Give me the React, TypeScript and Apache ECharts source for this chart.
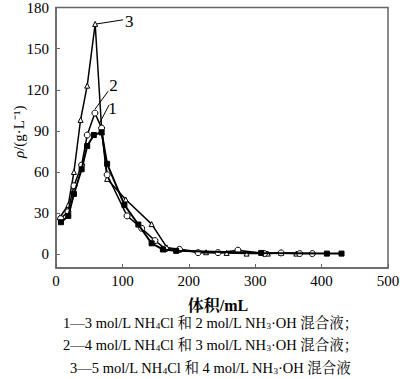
import React, { useEffect, useRef } from "react";
import * as echarts from "echarts";

const s1X = [7.5, 18.5, 27, 38.6, 47, 57, 68.7, 77, 103, 124, 144, 161, 181, 309, 408, 430];
const s1Y = [23.4, 28, 44, 62, 79, 87, 89, 66, 36, 21.7, 8, 3.5, 2.5, 1, 0.5, 0.5];

const s2X = [7, 18, 27, 38.6, 47, 58.6, 68.7, 77, 107, 129, 149, 165, 186, 214, 244, 274, 314, 339, 367, 386];
const s2Y = [26, 31, 50, 65, 87, 103, 92, 58, 28, 19, 10, 4, 3.6, 1.2, 1.2, 3, 0.5, 1, 0.5, 0.5];

const s3X = [6, 18.5, 27, 37, 47, 59, 69, 77, 105, 144, 167, 186, 226, 257, 287, 319, 339, 362];
const s3Y = [27, 36, 60, 98, 123, 168, 89, 55, 40, 22, 5, 3.5, 1.5, 1, 0.5, 0.5, 1, 0.5];

const xTicks = [0, 100, 200, 300, 400, 500];
const yTicks = [0, 30, 60, 90, 120, 150, 180];

const label1Line = [[66, 96], [80, 109]];
const label2Line = [[59, 106], [78.6, 119]];
const label3Line = [[61, 168], [101, 171]];
const label1Pos = [85, 106];
const label2Pos = [86.5, 123];
const label3Pos = [110.5, 170];

// caption segments: [prefix, sub1, middle, sub2, suffix]
const captions = [
  ["1—3 mol/L NH", "4", "Cl 和 2 mol/L NH", "3", "·OH 混合液；"],
  ["2—4 mol/L NH", "4", "Cl 和 3 mol/L NH", "3", "·OH 混合液；"],
  ["3—5 mol/L NH", "4", "Cl 和 4 mol/L NH", "3", "·OH 混合液"],
];

const FONT = "Liberation Serif, Noto Serif CJK SC, Noto Sans CJK SC, serif";

const zip = (xs: number[], ys: number[]) => xs.map((x, i) => [x, ys[i]]);

const leader = (pts: number[][]) => ({
  symbol: "none",
  silent: true,
  lineStyle: { color: "#000", width: 1, type: "solid" },
  label: { show: false },
  data: [[{ coord: pts[0] }, { coord: pts[1] }]],
});

const tag = (pos: number[], text: string) => ({
  silent: true,
  symbol: "circle",
  symbolSize: 0,
  label: {
    show: true,
    position: "inside",
    formatter: text,
    color: "#000",
    fontFamily: FONT,
    fontSize: 17,
  },
  data: [{ coord: pos }],
});

export default function App() {
  const ref = useRef<HTMLDivElement>(null);
  useEffect(() => {
    if (!ref.current) return;
    const chart = echarts.init(ref.current, null, { renderer: "svg" });
    chart.setOption({
      animation: false,
      textStyle: { fontFamily: FONT },
      grid: {
        left: 56,
        right: 12,
        top: 7.5,
        bottom: 111,
        outerBoundsMode: "none",
        containLabel: false,
        show: true,
        borderColor: "#666",
        borderWidth: 1.5,
        backgroundColor: "transparent",
      },
      xAxis: {
        type: "value",
        min: 0,
        max: 500,
        interval: 100,
        name: "体积/mL",
        nameLocation: "middle",
        nameGap: 29,
        nameMoveOverlap: false,
        nameTextStyle: { fontFamily: FONT, fontSize: 16, fontWeight: "bold", color: "#000", padding: [0, 8, 0, 0] },
        axisLine: { show: true, onZero: false, lineStyle: { color: "#666", width: 1.5 } },
        axisTick: { show: true, inside: true, length: 4, lineStyle: { color: "#666" } },
        axisLabel: { fontFamily: FONT, fontSize: 15, color: "#000", margin: 5, customValues: xTicks },
        splitLine: { show: false },
      },
      yAxis: {
        type: "value",
        min: -10,
        max: 180,
        name: "{i|ρ}/(g·L⁻¹)",
        nameLocation: "middle",
        nameGap: 30,
        nameRotate: 90,
        nameMoveOverlap: false,
        nameTextStyle: {
          fontFamily: FONT,
          fontSize: 15,
          color: "#000",
          padding: [0, 0, 0, 12],
          rich: { i: { fontFamily: FONT, fontSize: 15, fontStyle: "italic", color: "#000" } },
        },
        axisLine: { show: true, onZero: false, lineStyle: { color: "#666", width: 1.5 } },
        axisTick: { show: true, inside: true, length: 4, customValues: yTicks, lineStyle: { color: "#666" } },
        axisLabel: { fontFamily: FONT, fontSize: 15, color: "#000", margin: 7, customValues: yTicks },
        splitLine: { show: false },
      },
      graphic: captions.map((c, i) => ({
        type: "text",
        left: i === 2 ? 70 : 63,
        top: 315 + i * 22.5,
        style: {
          text: `{n|${c[0]}}{s|${c[1]}}{n|${c[2]}}{s|${c[3]}}{n|${c[4]}}`,
          fontFamily: FONT,
          fontSize: 14.5,
          fill: "#000",
          rich: {
            n: { fontFamily: FONT, fontSize: 14.5, lineHeight: 16, fill: "#000" },
            s: { fontFamily: FONT, fontSize: 9, lineHeight: 16, padding: [6, 0, 0, 0], fill: "#000" },
          },
        },
      })),
      series: [
        {
          type: "line",
          name: "3",
          data: zip(s3X, s3Y),
          symbol: "triangle",
          symbolSize: 5,
          itemStyle: { color: "#fff", borderColor: "#000", borderWidth: 1 },
          lineStyle: { color: "#000", width: 1.5 },
          markLine: leader(label3Line),
          markPoint: tag(label3Pos, "3"),
          z: 2,
        },
        {
          type: "line",
          name: "2",
          data: zip(s2X, s2Y),
          symbol: "circle",
          symbolSize: 6,
          itemStyle: { color: "#fff", borderColor: "#000", borderWidth: 1 },
          lineStyle: { color: "#000", width: 1.5 },
          markLine: leader(label2Line),
          markPoint: tag(label2Pos, "2"),
          z: 3,
        },
        {
          type: "line",
          name: "1",
          data: zip(s1X, s1Y),
          symbol: "rect",
          symbolSize: 5,
          itemStyle: { color: "#000", borderColor: "#000", borderWidth: 1 },
          lineStyle: { color: "#000", width: 2 },
          markLine: leader(label1Line),
          markPoint: tag(label1Pos, "1"),
          z: 4,
        },
      ],
    });
    return () => chart.dispose();
  }, []);
  return <div ref={ref} style={{ position: "absolute", left: 0, top: 0, width: 400, height: 379 }} />;
}
